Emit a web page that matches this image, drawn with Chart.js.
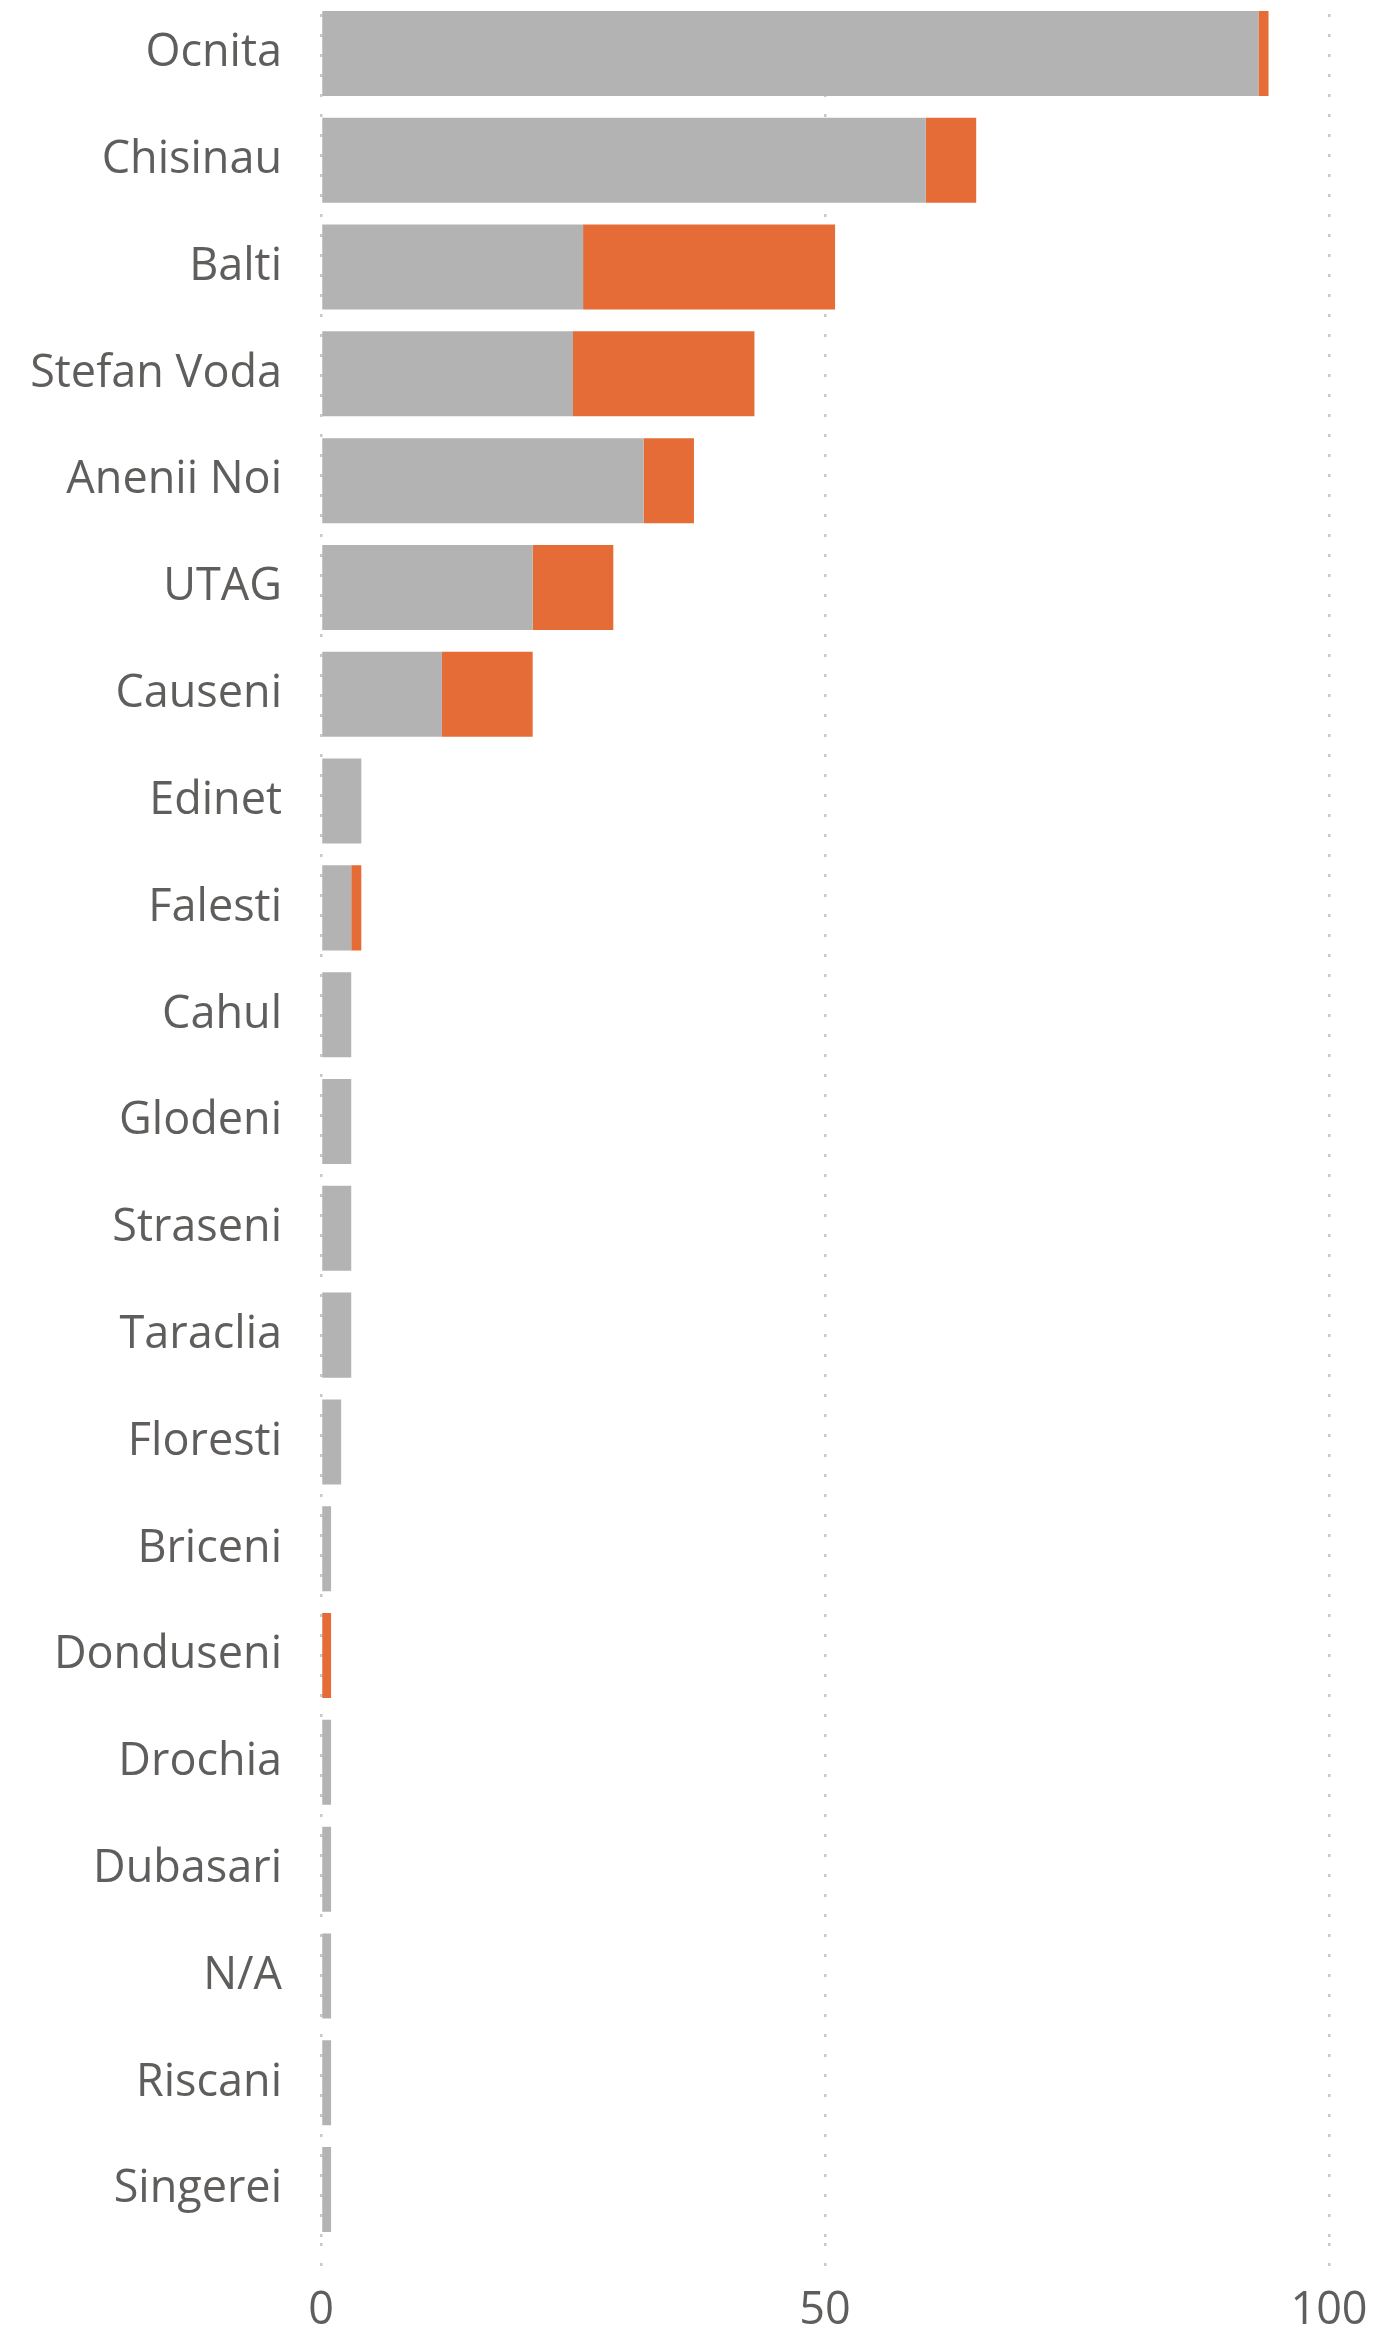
<!DOCTYPE html>
<html>
<head>
<meta charset="utf-8">
<script src="https://cdn.jsdelivr.net/npm/chart.js@4/dist/chart.umd.min.js"></script>
<style>
  html, body { margin: 0; padding: 0; background: #fff; }
  #wrap { width: 1379px; height: 2344px; }
</style>
</head>
<body>
<div id="wrap"><canvas id="barChart"></canvas></div>
<script>
// districts, top to bottom
const districts = ['Ocnita', 'Chisinau', 'Balti', 'Stefan Voda', 'Anenii Noi', 'UTAG', 'Causeni',
  'Edinet', 'Falesti', 'Cahul', 'Glodeni', 'Straseni', 'Taraclia', 'Floresti', 'Briceni',
  'Donduseni', 'Drochia', 'Dubasari', 'N/A', 'Riscani', 'Singerei'];
const greyValues   = [93, 60, 26, 25, 32, 21, 12, 4, 3, 3, 3, 3, 3, 2, 1, 0, 1, 1, 1, 1, 1];
const orangeValues = [1, 5, 25, 18, 5, 8, 9, 0, 1, 0, 0, 0, 0, 0, 0, 1, 0, 0, 0, 0, 0];
const xTicks = [0, 50, 100];

const labelFont = { family: '"Open Sans", "Noto Sans", sans-serif', size: 45 };
const textColor = '#605E5C';
const dotColor = '#c8c8c8';

const ctx = document.getElementById('barChart');

new Chart(ctx, {
  type: 'bar',
  data: {
    labels: districts,
    datasets: [
      {
        label: 'Series 1',
        data: greyValues,
        backgroundColor: '#b3b3b3',
        borderWidth: 0,
        barPercentage: 0.796,
        categoryPercentage: 1
      },
      {
        label: 'Series 2',
        data: orangeValues,
        backgroundColor: '#e56c37',
        borderWidth: 0,
        barPercentage: 0.796,
        categoryPercentage: 1
      }
    ]
  },
  options: {
    indexAxis: 'y',
    responsive: true,
    maintainAspectRatio: false,
    animation: false,
    layout: { padding: 0 },
    plugins: {
      legend: { display: false },
      tooltip: { enabled: false }
    },
    scales: {
      x: {
        stacked: true,
        min: 0,
        max: 100,
        afterBuildTicks: (scale) => {
          scale.ticks = xTicks.map(v => ({ value: v }));
        },
        afterFit: (scale) => {
          scale.height = 101;
          scale.paddingLeft = 0;
          scale.paddingRight = 50;
        },
        grid: {
          color: dotColor,
          lineWidth: 2.5,
          drawTicks: true,
          tickLength: 33,
          tickColor: dotColor,
          tickWidth: 2.5,
          tickBorderDash: [3, 17],
          tickBorderDashOffset: 0
        },
        border: { display: false, dash: [3, 17], dashOffset: 6 },
        ticks: {
          color: textColor,
          font: labelFont,
          padding: 8,
          maxRotation: 0
        }
      },
      y: {
        stacked: true,
        afterFit: (scale) => {
          scale.width = 321;
          scale.paddingTop = 0;
          scale.paddingBottom = 0;
        },
        grid: { display: false, drawTicks: false },
        border: { display: false },
        ticks: {
          color: textColor,
          font: labelFont,
          padding: 39,
          autoSkip: false
        }
      }
    }
  }
});
</script>
</body>
</html>
